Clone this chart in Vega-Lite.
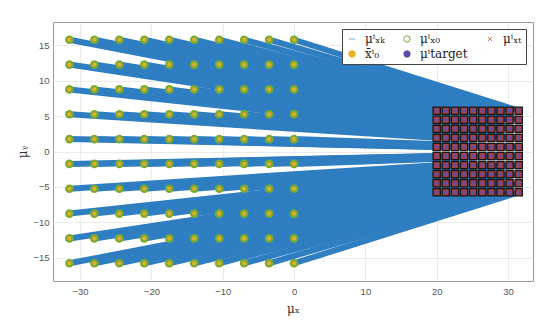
{
  "$schema": "https://vega.github.io/schema/vega-lite/v6.json",
  "width": 480,
  "height": 259,
  "autosize": {"type": "none"},
  "padding": {"left": 53, "top": 22, "right": 5, "bottom": 46},
  "background": "white",
  "config": {
    "view": {"stroke": "#9a9a9a", "strokeWidth": 1},
    "axis": {
      "grid": true, "gridColor": "#e6e6e6", "gridWidth": 0.8,
      "domain": false, "ticks": false,
      "labelFont": "Liberation Sans", "labelFontSize": 9.5, "labelColor": "#555555",
      "titleFont": "DejaVu Serif", "titleFontSize": 12, "titleFontWeight": "normal", "titleColor": "#333333"
    },
    "legend": {
      "orient": "top-right", "offset": 7, "columns": 3,
      "fillColor": "white", "strokeColor": "#444444", "padding": 4,
      "labelFont": "DejaVu Serif", "labelFontSize": 12, "labelColor": "#222222",
      "symbolSize": 40, "symbolStrokeWidth": 1, "symbolOpacity": 1,
      "columnPadding": 16, "rowPadding": 3, "labelOffset": 7
    }
  },
  "datasets": {
    "agents": [
      {"x0":-31.5,"y0":15.75,"xt":20,"yt":5.75},{"x0":-28,"y0":15.75,"xt":21.28,"yt":5.75},{"x0":-24.5,"y0":15.75,"xt":22.56,"yt":5.75},{"x0":-21,"y0":15.75,"xt":23.83,"yt":5.75},{"x0":-17.5,"y0":15.75,"xt":25.11,"yt":5.75},{"x0":-14,"y0":15.75,"xt":26.39,"yt":5.75},{"x0":-10.5,"y0":15.75,"xt":27.67,"yt":5.75},{"x0":-7,"y0":15.75,"xt":28.94,"yt":5.75},{"x0":-3.5,"y0":15.75,"xt":30.22,"yt":5.75},{"x0":0,"y0":15.75,"xt":31.5,"yt":5.75},
      {"x0":-31.5,"y0":12.25,"xt":20,"yt":4.47},{"x0":-28,"y0":12.25,"xt":21.28,"yt":4.47},{"x0":-24.5,"y0":12.25,"xt":22.56,"yt":4.47},{"x0":-21,"y0":12.25,"xt":23.83,"yt":4.47},{"x0":-17.5,"y0":12.25,"xt":25.11,"yt":4.47},{"x0":-14,"y0":12.25,"xt":26.39,"yt":4.47},{"x0":-10.5,"y0":12.25,"xt":27.67,"yt":4.47},{"x0":-7,"y0":12.25,"xt":28.94,"yt":4.47},{"x0":-3.5,"y0":12.25,"xt":30.22,"yt":4.47},{"x0":0,"y0":12.25,"xt":31.5,"yt":4.47},
      {"x0":-31.5,"y0":8.75,"xt":20,"yt":3.19},{"x0":-28,"y0":8.75,"xt":21.28,"yt":3.19},{"x0":-24.5,"y0":8.75,"xt":22.56,"yt":3.19},{"x0":-21,"y0":8.75,"xt":23.83,"yt":3.19},{"x0":-17.5,"y0":8.75,"xt":25.11,"yt":3.19},{"x0":-14,"y0":8.75,"xt":26.39,"yt":3.19},{"x0":-10.5,"y0":8.75,"xt":27.67,"yt":3.19},{"x0":-7,"y0":8.75,"xt":28.94,"yt":3.19},{"x0":-3.5,"y0":8.75,"xt":30.22,"yt":3.19},{"x0":0,"y0":8.75,"xt":31.5,"yt":3.19},
      {"x0":-31.5,"y0":5.25,"xt":20,"yt":1.92},{"x0":-28,"y0":5.25,"xt":21.28,"yt":1.92},{"x0":-24.5,"y0":5.25,"xt":22.56,"yt":1.92},{"x0":-21,"y0":5.25,"xt":23.83,"yt":1.92},{"x0":-17.5,"y0":5.25,"xt":25.11,"yt":1.92},{"x0":-14,"y0":5.25,"xt":26.39,"yt":1.92},{"x0":-10.5,"y0":5.25,"xt":27.67,"yt":1.92},{"x0":-7,"y0":5.25,"xt":28.94,"yt":1.92},{"x0":-3.5,"y0":5.25,"xt":30.22,"yt":1.92},{"x0":0,"y0":5.25,"xt":31.5,"yt":1.92},
      {"x0":-31.5,"y0":1.75,"xt":20,"yt":0.64},{"x0":-28,"y0":1.75,"xt":21.28,"yt":0.64},{"x0":-24.5,"y0":1.75,"xt":22.56,"yt":0.64},{"x0":-21,"y0":1.75,"xt":23.83,"yt":0.64},{"x0":-17.5,"y0":1.75,"xt":25.11,"yt":0.64},{"x0":-14,"y0":1.75,"xt":26.39,"yt":0.64},{"x0":-10.5,"y0":1.75,"xt":27.67,"yt":0.64},{"x0":-7,"y0":1.75,"xt":28.94,"yt":0.64},{"x0":-3.5,"y0":1.75,"xt":30.22,"yt":0.64},{"x0":0,"y0":1.75,"xt":31.5,"yt":0.64},
      {"x0":-31.5,"y0":-1.75,"xt":20,"yt":-0.64},{"x0":-28,"y0":-1.75,"xt":21.28,"yt":-0.64},{"x0":-24.5,"y0":-1.75,"xt":22.56,"yt":-0.64},{"x0":-21,"y0":-1.75,"xt":23.83,"yt":-0.64},{"x0":-17.5,"y0":-1.75,"xt":25.11,"yt":-0.64},{"x0":-14,"y0":-1.75,"xt":26.39,"yt":-0.64},{"x0":-10.5,"y0":-1.75,"xt":27.67,"yt":-0.64},{"x0":-7,"y0":-1.75,"xt":28.94,"yt":-0.64},{"x0":-3.5,"y0":-1.75,"xt":30.22,"yt":-0.64},{"x0":0,"y0":-1.75,"xt":31.5,"yt":-0.64},
      {"x0":-31.5,"y0":-5.25,"xt":20,"yt":-1.92},{"x0":-28,"y0":-5.25,"xt":21.28,"yt":-1.92},{"x0":-24.5,"y0":-5.25,"xt":22.56,"yt":-1.92},{"x0":-21,"y0":-5.25,"xt":23.83,"yt":-1.92},{"x0":-17.5,"y0":-5.25,"xt":25.11,"yt":-1.92},{"x0":-14,"y0":-5.25,"xt":26.39,"yt":-1.92},{"x0":-10.5,"y0":-5.25,"xt":27.67,"yt":-1.92},{"x0":-7,"y0":-5.25,"xt":28.94,"yt":-1.92},{"x0":-3.5,"y0":-5.25,"xt":30.22,"yt":-1.92},{"x0":0,"y0":-5.25,"xt":31.5,"yt":-1.92},
      {"x0":-31.5,"y0":-8.75,"xt":20,"yt":-3.19},{"x0":-28,"y0":-8.75,"xt":21.28,"yt":-3.19},{"x0":-24.5,"y0":-8.75,"xt":22.56,"yt":-3.19},{"x0":-21,"y0":-8.75,"xt":23.83,"yt":-3.19},{"x0":-17.5,"y0":-8.75,"xt":25.11,"yt":-3.19},{"x0":-14,"y0":-8.75,"xt":26.39,"yt":-3.19},{"x0":-10.5,"y0":-8.75,"xt":27.67,"yt":-3.19},{"x0":-7,"y0":-8.75,"xt":28.94,"yt":-3.19},{"x0":-3.5,"y0":-8.75,"xt":30.22,"yt":-3.19},{"x0":0,"y0":-8.75,"xt":31.5,"yt":-3.19},
      {"x0":-31.5,"y0":-12.25,"xt":20,"yt":-4.47},{"x0":-28,"y0":-12.25,"xt":21.28,"yt":-4.47},{"x0":-24.5,"y0":-12.25,"xt":22.56,"yt":-4.47},{"x0":-21,"y0":-12.25,"xt":23.83,"yt":-4.47},{"x0":-17.5,"y0":-12.25,"xt":25.11,"yt":-4.47},{"x0":-14,"y0":-12.25,"xt":26.39,"yt":-4.47},{"x0":-10.5,"y0":-12.25,"xt":27.67,"yt":-4.47},{"x0":-7,"y0":-12.25,"xt":28.94,"yt":-4.47},{"x0":-3.5,"y0":-12.25,"xt":30.22,"yt":-4.47},{"x0":0,"y0":-12.25,"xt":31.5,"yt":-4.47},
      {"x0":-31.5,"y0":-15.75,"xt":20,"yt":-5.75},{"x0":-28,"y0":-15.75,"xt":21.28,"yt":-5.75},{"x0":-24.5,"y0":-15.75,"xt":22.56,"yt":-5.75},{"x0":-21,"y0":-15.75,"xt":23.83,"yt":-5.75},{"x0":-17.5,"y0":-15.75,"xt":25.11,"yt":-5.75},{"x0":-14,"y0":-15.75,"xt":26.39,"yt":-5.75},{"x0":-10.5,"y0":-15.75,"xt":27.67,"yt":-5.75},{"x0":-7,"y0":-15.75,"xt":28.94,"yt":-5.75},{"x0":-3.5,"y0":-15.75,"xt":30.22,"yt":-5.75},{"x0":0,"y0":-15.75,"xt":31.5,"yt":-5.75}
    ],
    "keys": [
      {"k": "μⁱₓₖ", "x": 0, "y": 15.75},
      {"k": "μⁱₓ₀", "x": 0, "y": 15.75},
      {"k": "μⁱₓₜ", "x": 0, "y": 15.75},
      {"k": "x̄ⁱ₀", "x": 0, "y": 15.75},
      {"k": "μⁱtarget", "x": 0, "y": 15.75}
    ]
  },
  "layer": [
    {
      "data": {"name": "agents"},
      "mark": {"type": "rule", "strokeWidth": 6, "color": "#2f7ec1"},
      "encoding": {
        "x": {"field": "x0", "type": "quantitative", "scale": {"domain": [-33.8, 33.5], "nice": false, "zero": false}, "axis": {"values": [-30, -20, -10, 0, 10, 20, 30], "title": "μₓ", "labelPadding": 5, "titlePadding": 8}},
        "y": {"field": "y0", "type": "quantitative", "scale": {"domain": [-18.25, 18.25], "nice": false, "zero": false}, "axis": {"values": [-15, -10, -5, 0, 5, 10, 15], "title": "μᵧ", "labelPadding": 4, "titlePadding": 3}},
        "x2": {"field": "xt"},
        "y2": {"field": "yt"}
      }
    },
    {
      "data": {"name": "keys"},
      "mark": {"type": "point", "opacity": 0, "strokeWidth": 1},
      "encoding": {
        "x": {"field": "x", "type": "quantitative"},
        "y": {"field": "y", "type": "quantitative"},
        "shape": {"field": "k", "type": "nominal", "sort": null,
          "scale": {"domain": ["μⁱₓₖ", "x̄ⁱ₀", "μⁱₓ₀", "μⁱtarget", "μⁱₓₜ"], "range": ["stroke", "circle", "circle", "circle", "M-0.7,-0.7L0.7,0.7M-0.7,0.7L0.7,-0.7"]},
          "legend": {"title": null}},
        "stroke": {"field": "k", "type": "nominal", "sort": null,
          "scale": {"domain": ["μⁱₓₖ", "x̄ⁱ₀", "μⁱₓ₀", "μⁱtarget", "μⁱₓₜ"], "range": ["#6fb0dd", "#edb120", "#77ac30", "#5a4aa8", "#e07b4a"]},
          "legend": {"title": null}},
        "fill": {"field": "k", "type": "nominal", "sort": null,
          "scale": {"domain": ["μⁱₓₖ", "x̄ⁱ₀", "μⁱₓ₀", "μⁱtarget", "μⁱₓₜ"], "range": ["transparent", "#edb120", "transparent", "#5a4aa8", "transparent"]},
          "legend": {"title": null}}
      }
    },
    {
      "data": {"name": "agents"},
      "mark": {"type": "point", "shape": "circle", "filled": true, "size": 75, "color": "#7aab2f", "opacity": 1},
      "encoding": {
        "x": {"field": "x0", "type": "quantitative"},
        "y": {"field": "y0", "type": "quantitative"}
      }
    },
    {
      "data": {"name": "agents"},
      "mark": {"type": "point", "shape": "circle", "filled": true, "size": 18, "color": "#dfae35", "opacity": 1},
      "encoding": {
        "x": {"field": "x0", "type": "quantitative"},
        "y": {"field": "y0", "type": "quantitative"}
      }
    },
    {
      "data": {"name": "agents"},
      "mark": {"type": "point", "shape": "square", "filled": true, "size": 52, "fill": "#a8403c", "stroke": "#151515", "strokeWidth": 1.3, "opacity": 1},
      "encoding": {
        "x": {"field": "xt", "type": "quantitative"},
        "y": {"field": "yt", "type": "quantitative"}
      }
    },
    {
      "data": {"name": "agents"},
      "mark": {"type": "point", "shape": "circle", "filled": true, "size": 14, "color": "#6a4aa8", "opacity": 1},
      "encoding": {
        "x": {"field": "xt", "type": "quantitative"},
        "y": {"field": "yt", "type": "quantitative"}
      }
    }
  ]
}
